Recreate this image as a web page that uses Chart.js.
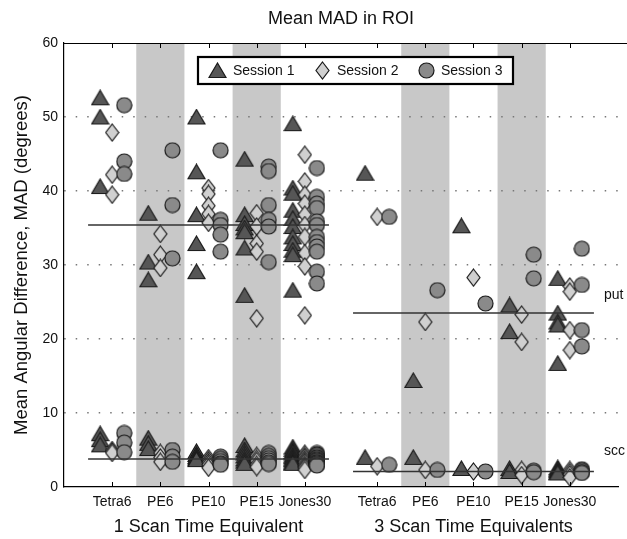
<!DOCTYPE html>
<html><head><meta charset="utf-8">
<script src="https://cdn.jsdelivr.net/npm/chart.js@4.4.1/dist/chart.umd.min.js"></script>
<style>html,body{margin:0;padding:0;background:#fff}#wrap{width:627px;height:539px}</style>
</head><body><div id="wrap"><canvas id="c" width="627" height="539"></canvas></div>
<script>
// ---------- data ----------
const categories = ['Tetra6','PE6','PE10','PE15','Jones30'];
const groupLabels = ['1 Scan Time Equivalent','3 Scan Time Equivalents'];
const sessionNames = ['Session 1','Session 2','Session 3'];
const yTicks = [0,10,20,30,40,50,60];

// 1 scan time equivalent, putamen (upper cluster)
const s1Put1 = [[52.6,50.0,40.6],[37.0,30.4,28.0],[50.0,42.6,36.8,32.9,29.1],[44.3,36.8,35.6,35.0,34.5,32.3,25.9],[49.1,40.4,39.7,37.4,36.3,35.2,33.8,32.9,32.0,31.4,26.6]];
const s2Put1 = [[47.9,42.2,39.5],[34.2,31.4,29.6],[40.4,39.6,38.0,36.9,35.7],[37.0,35.2,32.9,31.8,22.8],[44.9,41.3,39.5,38.3,36.8,35.4,33.8,31.6,29.8,23.2]];
const s3Put1 = [[51.6,44.0,42.3],[45.5,38.1,30.9],[45.5,36.1,35.4,34.1,31.8],[43.3,42.7,38.1,36.1,35.2,30.4],[43.1,39.2,38.3,37.7,35.9,35.4,33.8,33.1,32.5,31.8,29.1,27.5]];
// 1 scan time equivalent, scc (lower cluster)
const s1Scc1 = [[7.2,6.4,5.7],[6.6,5.9,5.2],[4.8,4.4,4.1,3.9,3.7],[5.6,5.0,4.6,4.2,3.8,3.5,3.2],[5.4,5.1,4.8,4.6,4.3,4.1,3.9,3.7,3.5,3.3,3.2]];
const s2Scc1 = [[5.0,4.8,4.6],[4.6,4.0,3.4],[3.9,3.6,3.3,3.0,2.6],[4.2,3.8,3.5,3.0,2.7],[4.5,4.2,4.0,3.7,3.5,3.3,3.0,2.8,2.6,2.3]];
const s3Scc1 = [[7.3,6.0,4.7],[5.0,4.1,3.4],[4.1,3.8,3.5,3.2,3.0],[4.6,4.2,3.9,3.6,3.3,3.1],[4.6,4.4,4.2,4.0,3.9,3.7,3.6,3.4,3.3,3.2,3.0,2.9]];
// 3 scan time equivalents, putamen
const s1Put3 = [[42.4],[14.4],[35.3],[24.6,21.0],[28.2,23.5,22.3,21.9,16.7]];
const s2Put3 = [[36.5],[22.3],[28.3],[23.3,19.6],[27.1,26.4,21.2,18.5]];
const s3Put3 = [[36.5],[26.6],[24.8],[31.4,28.2],[32.2,27.3,21.2,19.0]];
// 3 scan time equivalents, scc
const s1Scc3 = [[4.0],[4.0],[2.5],[2.5,2.1],[2.6,2.4,2.2,2.0,1.9]];
const s2Scc3 = [[2.8],[2.3],[2.1],[2.3,1.6],[2.3,2.0,1.7,1.3]];
const s3Scc3 = [[3.0],[2.3],[2.1],[2.2,2.0],[2.4,2.2,2.0,1.9]];
// group means (horizontal lines)
const meanPut = [35.4, 23.5];
const meanScc = [3.8, 2.1];
const regionLabels = ['put','scc'];

// ---------- layout helpers ----------
const pos1 = [1,2,3,4,5];
const pos3 = [6.5,7.5,8.5,9.5,10.5];
const allPos = pos1.concat(pos3);
const allLabels = categories.concat(categories);
const offsets = [-0.25, 0, 0.25];
const bandPos = [pos1[1], pos1[3], pos3[1], pos3[3]];

function pts(groups, posArr, off){
  const out = [];
  groups.forEach((vals,i)=>vals.forEach(v=>out.push({x:posArr[i]+off, y:v})));
  return out;
}
function sessionData(put1, scc1, put3, scc3, off){
  return pts(put1,pos1,off).concat(pts(scc1,pos1,off), pts(put3,pos3,off), pts(scc3,pos3,off));
}
function meanLine(v, g){
  const p = g===0 ? pos1 : pos3;
  return [{x:p[0]-0.5, y:v},{x:p[p.length-1]+0.5, y:v}];
}

const fills = ['#565656','#d0d0d0','#8a8a8a'];
const edge = '#1a1a1a';
const FONT = "'Liberation Sans', Arial, sans-serif";

// marker glyphs drawn once to small canvases so Chart.js can use them as point styles
function makeGlyph(kind, fill){
  const c = document.createElement('canvas');
  let w, h;
  if(kind==='tri'){ w=19; h=17; } else if(kind==='dia'){ w=15; h=19; } else { w=17; h=17; }
  c.width=w; c.height=h;
  const g=c.getContext('2d');
  g.beginPath();
  if(kind==='tri'){ g.moveTo(w/2,1); g.lineTo(w-1,h-1.5); g.lineTo(1,h-1.5); g.closePath(); }
  else if(kind==='dia'){ g.moveTo(w/2,1); g.lineTo(w-1,h/2); g.lineTo(w/2,h-1); g.lineTo(1,h/2); g.closePath(); }
  else { g.arc(w/2,h/2,w/2-1,0,Math.PI*2); }
  g.fillStyle=fill; g.fill(); g.strokeStyle=edge; g.lineWidth=1.2; g.stroke();
  return c;
}
const glyphs = [makeGlyph('tri',fills[0]), makeGlyph('dia',fills[1]), makeGlyph('circ',fills[2])];

function markerDS(label, data, i){
  return {label, data, pointStyle:glyphs[i], pointRadius:8, pointHoverRadius:8,
    backgroundColor:fills[i], borderColor:edge, borderWidth:1, showLine:false, order:3-i};
}
function lineDS(data){
  return {label:'mean', data, showLine:true, pointRadius:0, borderColor:'#333', borderWidth:1.5, order:0, fill:false};
}

const datasets = [
  markerDS(sessionNames[0], sessionData(s1Put1,s1Scc1,s1Put3,s1Scc3,offsets[0]), 0),
  markerDS(sessionNames[1], sessionData(s2Put1,s2Scc1,s2Put3,s2Scc3,offsets[1]), 1),
  markerDS(sessionNames[2], sessionData(s3Put1,s3Scc1,s3Put3,s3Scc3,offsets[2]), 2),
  lineDS(meanLine(meanPut[0],0)), lineDS(meanLine(meanScc[0],0)),
  lineDS(meanLine(meanPut[1],1)), lineDS(meanLine(meanScc[1],1))
];

const decor = {
  id:'decor',
  beforeDraw(chart){
    const {ctx, chartArea:a, scales:{x}} = chart;
    ctx.save();
    ctx.fillStyle='#fff'; ctx.fillRect(0,0,chart.width,chart.height);
    ctx.fillStyle='#c8c8c8';
    bandPos.forEach(p=>{
      const l=x.getPixelForValue(p-0.5), r=x.getPixelForValue(p+0.5);
      ctx.fillRect(l, a.top, r-l, a.bottom-a.top);
    });
    ctx.restore();
  },
  afterDraw(chart){
    const {ctx, chartArea:a, scales:{x,y}} = chart;
    ctx.save();
    // top border
    ctx.strokeStyle='#000'; ctx.lineWidth=1.2;
    ctx.beginPath(); ctx.moveTo(a.left, a.top+0.5); ctx.lineTo(chart.width, a.top+0.5); ctx.stroke();
    // inward tick marks top/bottom
    ctx.lineWidth=1;
    allPos.forEach(p=>{
      const px=Math.round(x.getPixelForValue(p))+0.5;
      ctx.beginPath(); ctx.moveTo(px,a.top); ctx.lineTo(px,a.top+5);
      ctx.moveTo(px,a.bottom); ctx.lineTo(px,a.bottom-5); ctx.stroke();
    });
    ctx.fillStyle='#111';
    // title
    ctx.font = '18px '+FONT; ctx.textAlign='center'; ctx.textBaseline='middle';
    ctx.fillText('Mean MAD in ROI', 341, 19);
    // group labels
    ctx.font = '18px '+FONT;
    ctx.fillText(groupLabels[0], x.getPixelForValue(pos1[2]), 527);
    ctx.fillText(groupLabels[1], x.getPixelForValue(pos3[2]), 527);
    // y title
    ctx.save(); ctx.translate(22, (a.top+a.bottom)/2); ctx.rotate(-Math.PI/2);
    ctx.font = '18.5px '+FONT; ctx.fillText('Mean Angular Difference, MAD (degrees)', 0, 0);
    ctx.restore();
    // region labels
    ctx.font = '14px '+FONT; ctx.textAlign='left';
    ctx.fillText(regionLabels[0], 604, y.getPixelForValue(25.9));
    ctx.fillText(regionLabels[1], 604, y.getPixelForValue(4.9));
    // legend
    const lx=198, ly=57, lw=315, lh=27;
    ctx.fillStyle='#fff'; ctx.fillRect(lx,ly,lw,lh);
    ctx.strokeStyle='#000'; ctx.lineWidth=2.2; ctx.strokeRect(lx,ly,lw,lh);
    const symX=[217,322.7,426.7], txtX=[233,337,441], cy=ly+lh/2;
    sessionNames.forEach((n,i)=>{
      const gph=glyphs[i];
      ctx.drawImage(gph, Math.round(symX[i]-gph.width/2), Math.round(cy-gph.height/2));
      ctx.fillStyle='#111'; ctx.font='14px '+FONT; ctx.textAlign='left'; ctx.textBaseline='middle';
      ctx.fillText(n, txtX[i], cy+1);
    });
    ctx.restore();
  }
};

new Chart(document.getElementById('c'), {
  type:'scatter',
  data:{datasets},
  plugins:[decor],
  options:{
    responsive:false, animation:false, devicePixelRatio:1,
    layout:{padding:{top:43,left:0,right:0,bottom:0}},
    plugins:{legend:{display:false}, tooltip:{enabled:false}, title:{display:false}},
    scales:{
      x:{type:'linear', min:0, max:11.5,
        afterFit(s){ s.height = 52; },
        afterBuildTicks(s){ s.ticks = allPos.map(v=>({value:v})); },
        ticks:{callback:(v)=>{const i=allPos.indexOf(v); return i>=0?allLabels[i]:'';}, font:{size:14, family:FONT}, color:'#111', padding:7, maxRotation:0, autoSkip:false},
        grid:{display:false, drawTicks:false},
        border:{display:true, color:'#000', width:1.2}
      },
      y:{type:'linear', min:0, max:60,
        afterFit(s){ s.width = 64; },
        afterBuildTicks(s){ s.ticks = yTicks.map(v=>({value:v})); },
        ticks:{font:{size:14, family:FONT}, color:'#111', padding:6},
        grid:{drawTicks:false, color:(c)=> (c.tick && (c.tick.value===0||c.tick.value===60)) ? 'rgba(0,0,0,0)' : '#777', lineWidth:1.5},
        border:{display:true, color:'#000', width:1.2, dash:[1.5,10]}
      }
    }
  }
});
</script></body></html>
